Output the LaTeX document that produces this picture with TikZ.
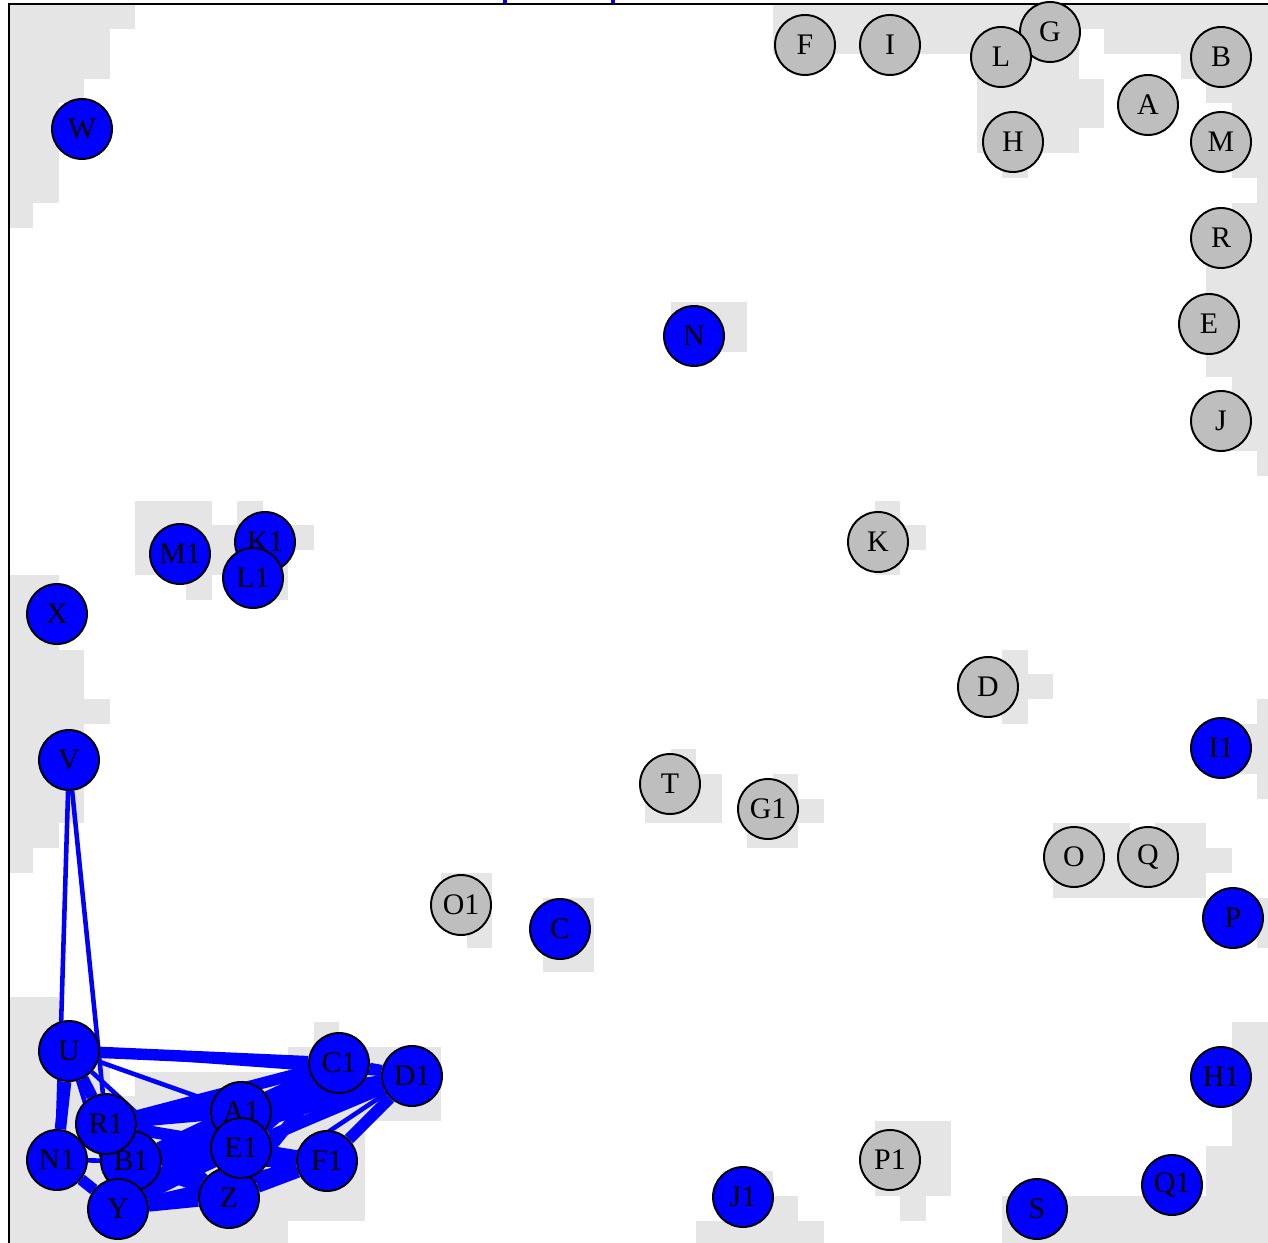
\documentclass[tikz,border=0pt]{standalone}
\usepackage{fontspec}
\setmainfont{Liberation Serif}
\usepackage{xcolor}
\definecolor{nodegray}{HTML}{BEBEBE}
\definecolor{cellgray}{HTML}{E5E5E5}
\pgfdeclarelayer{cells}
\pgfdeclarelayer{links}
\pgfsetlayers{cells,links,main}
\tikzset{
  vtx/.style={circle,draw=black,line width=1.1pt,minimum size=1.2cm,inner sep=0pt,font=\fontsize{17}{17}\selectfont},
  grayvtx/.style={vtx,fill=nodegray},
  bluevtx/.style={vtx,fill=blue},
  link/.style={draw=blue,line width=2.6pt},
  heavylink/.style={link,line width=6.5pt}
}

\begin{document}
\begin{tikzpicture}[x=0.02cm,y=-0.02cm,line cap=round]
\useasboundingbox (0,0) rectangle (1268,1243);
\clip (0,0) rectangle (1268,1243);

% density cells
\begin{pgfonlayer}{cells}
\begin{scope}[shift={(8,4.17)},x=0.51cm,y=-0.4966cm]
\fill[cellgray] (0,0) rectangle (5,1);
\fill[cellgray] (0,1) rectangle (4,3);
\fill[cellgray] (0,3) rectangle (3,4);
\fill[cellgray] (0,4) rectangle (2,8);
\fill[cellgray] (0,8) rectangle (1,9);
\fill[cellgray] (30,0) rectangle (42,2);
\fill[cellgray] (42,0) rectangle (43,1);
\fill[cellgray] (43,0) rectangle (50,2);
\fill[cellgray] (38,2) rectangle (42,3);
\fill[cellgray] (46,2) rectangle (50,3);
\fill[cellgray] (38,3) rectangle (43,5);
\fill[cellgray] (47,3) rectangle (50,4);
\fill[cellgray] (48,4) rectangle (50,7);
\fill[cellgray] (38,5) rectangle (42,6);
\fill[cellgray] (39,6) rectangle (40,7);
\fill[cellgray] (49,7) rectangle (50,8);
\fill[cellgray] (48,8) rectangle (50,10);
\fill[cellgray] (47,10) rectangle (50,15);
\fill[cellgray] (48,15) rectangle (50,18);
\fill[cellgray] (49,18) rectangle (50,19);
\fill[cellgray] (26,12) rectangle (29,14);
\fill[cellgray] (5,20) rectangle (8,21);
\fill[cellgray] (9,20) rectangle (10,21);
\fill[cellgray] (5,21) rectangle (12,22);
\fill[cellgray] (5,22) rectangle (11,23);
\fill[cellgray] (7,23) rectangle (8,24);
\fill[cellgray] (9,23) rectangle (11,24);
\fill[cellgray] (34,20) rectangle (35,23);
\fill[cellgray] (35,21) rectangle (36,22);
\fill[cellgray] (0,23) rectangle (2,26);
\fill[cellgray] (0,26) rectangle (3,28);
\fill[cellgray] (0,28) rectangle (4,29);
\fill[cellgray] (0,29) rectangle (3,33);
\fill[cellgray] (0,33) rectangle (2,34);
\fill[cellgray] (0,34) rectangle (1,35);
\fill[cellgray] (39,26) rectangle (40,29);
\fill[cellgray] (40,27) rectangle (41,28);
\fill[cellgray] (49,28) rectangle (50,32);
\fill[cellgray] (48,29) rectangle (49,31);
\fill[cellgray] (26,30) rectangle (27,31);
\fill[cellgray] (25,31) rectangle (28,33);
\fill[cellgray] (30,31) rectangle (31,34);
\fill[cellgray] (29,32) rectangle (32,33);
\fill[cellgray] (29,33) rectangle (30,34);
\fill[cellgray] (41,33) rectangle (44,36);
\fill[cellgray] (45,33) rectangle (47,36);
\fill[cellgray] (44,34) rectangle (45,36);
\fill[cellgray] (47,34) rectangle (48,35);
\fill[cellgray] (49,36) rectangle (50,38);
\fill[cellgray] (17,35) rectangle (19,37);
\fill[cellgray] (18,37) rectangle (19,38);
\fill[cellgray] (21,36) rectangle (23,39);
\fill[cellgray] (0,40) rectangle (2,42);
\fill[cellgray] (12,41) rectangle (13,42);
\fill[cellgray] (0,42) rectangle (4,44);
\fill[cellgray] (11,42) rectangle (17,44);
\fill[cellgray] (5,43) rectangle (11,44);
\fill[cellgray] (0,44) rectangle (17,45);
\fill[cellgray] (0,45) rectangle (14,49);
\fill[cellgray] (0,49) rectangle (11,50);
\fill[cellgray] (48,41) rectangle (50,46);
\fill[cellgray] (47,46) rectangle (50,48);
\fill[cellgray] (39,48) rectangle (50,50);
\fill[cellgray] (28,47) rectangle (30,48);
\fill[cellgray] (28,48) rectangle (31,49);
\fill[cellgray] (27,49) rectangle (32,50);
\fill[cellgray] (34,45) rectangle (37,48);
\fill[cellgray] (35,48) rectangle (36,49);
\end{scope}
\end{pgfonlayer}

% frame and cut title
\draw[line width=1.1pt] (8.7,1246) -- (8.7,3.7) -- (1283,3.7);
\fill[blue] (503,0) rectangle (507,3);
\fill[blue] (611,0) rectangle (615,3);

% gray vertices
\node[grayvtx] (F) at (805,45) {F};
\node[grayvtx] (I) at (890,45) {I};
\node[grayvtx] (G) at (1050,32) {G};
\node[grayvtx] (L) at (1001,57) {L};
\node[grayvtx] (B) at (1221,57) {B};
\node[grayvtx] (A) at (1148,105) {A};
\node[grayvtx] (H) at (1013,142) {H};
\node[grayvtx] (M) at (1221,142) {M};
\node[grayvtx] (R) at (1221,238) {R};
\node[grayvtx] (E) at (1209,324) {E};
\node[grayvtx] (J) at (1221,421) {J};
\node[grayvtx] (K) at (878,542) {K};
\node[grayvtx] (D) at (988,687) {D};
\node[grayvtx] (T) at (670,784) {T};
\node[grayvtx] (G1) at (768,809) {G1};
\node[grayvtx] (O) at (1074,857) {O};
\node[grayvtx] (Q) at (1148,857) {Q};
\node[grayvtx] (O1) at (461,905) {O1};
\node[grayvtx] (P1) at (890,1160) {P1};

% blue vertices
\node[bluevtx] (W) at (82,129) {W};
\node[bluevtx] (N) at (694,336) {N};
\node[bluevtx] (M1) at (180,554) {M1};
\node[bluevtx] (K1) at (265,542) {K1};
\node[bluevtx] (L1) at (253,578) {L1};
\node[bluevtx] (X) at (57,614) {X};
\node[bluevtx] (V) at (69,760) {V};
\node[bluevtx] (I1) at (1221,748) {I1};
\node[bluevtx] (P) at (1233,918) {P};
\node[bluevtx] (C) at (560,929) {C};
\node[bluevtx] (U) at (69,1051) {U};
\node[bluevtx] (C1) at (339,1063) {C1};
\node[bluevtx] (D1) at (412,1076) {D1};
\node[bluevtx] (N1) at (57,1160) {N1};
\node[bluevtx] (B1) at (131,1161) {B1};
\node[bluevtx] (R1) at (106,1124) {R1};
\node[bluevtx] (Y) at (118,1209) {Y};
\node[bluevtx] (A1) at (241,1112) {A1};
\node[bluevtx] (Z) at (229,1198) {Z};
\node[bluevtx] (E1) at (241,1148) {E1};
\node[bluevtx] (F1) at (327,1161) {F1};
\node[bluevtx] (H1) at (1221,1077) {H1};
\node[bluevtx] (J1) at (743,1197) {J1};
\node[bluevtx] (S) at (1037,1209) {S};
\node[bluevtx] (Q1) at (1172,1185) {Q1};

% links of the blue cluster
\begin{pgfonlayer}{links}
\draw[link] (V) -- (N1);
\draw[link] (V) -- (R1);
\draw[heavylink] (U) -- (C1);
\draw[link] (U) -- (D1);
\draw[link] (U) -- (A1);
\draw[link] (U) -- (Z);
\draw[heavylink] (U) -- (R1);
\draw[link] (U) -- (B1);
\draw[heavylink] (U) -- (N1);
\draw[link] (U) -- (Y);
\draw[heavylink] (R1) -- (C1);
\draw[heavylink] (R1) -- (D1);
\draw[heavylink] (R1) -- (A1);
\draw[heavylink] (R1) -- (E1);
\draw[heavylink] (R1) -- (Z);
\draw[heavylink] (R1) -- (F1);
\draw[heavylink] (R1) -- (N1);
\draw[heavylink] (B1) -- (A1);
\draw[heavylink] (B1) -- (E1);
\draw[heavylink] (B1) -- (Z);
\draw[heavylink] (B1) -- (F1);
\draw[heavylink] (B1) -- (C1);
\draw[heavylink] (B1) -- (D1);
\draw[link] (N1) -- (B1);
\draw[heavylink] (N1) -- (Y);
\draw[heavylink] (Y) -- (Z);
\draw[heavylink] (Y) -- (E1);
\draw[heavylink] (Y) -- (A1);
\draw[heavylink] (Y) -- (F1);
\draw[heavylink] (Y) -- (C1);
\draw[link] (Y) -- (D1);
\draw[heavylink] (A1) -- (C1);
\draw[heavylink] (A1) -- (D1);
\draw[heavylink] (E1) -- (C1);
\draw[heavylink] (E1) -- (D1);
\draw[heavylink] (E1) -- (F1);
\draw[heavylink] (Z) -- (F1);
\draw[link] (Z) -- (D1);
\draw[heavylink] (Z) -- (C1);
\draw[heavylink] (F1) -- (D1);
\draw[heavylink] (C1) -- (D1);
\end{pgfonlayer}
\end{tikzpicture}
\end{document}
